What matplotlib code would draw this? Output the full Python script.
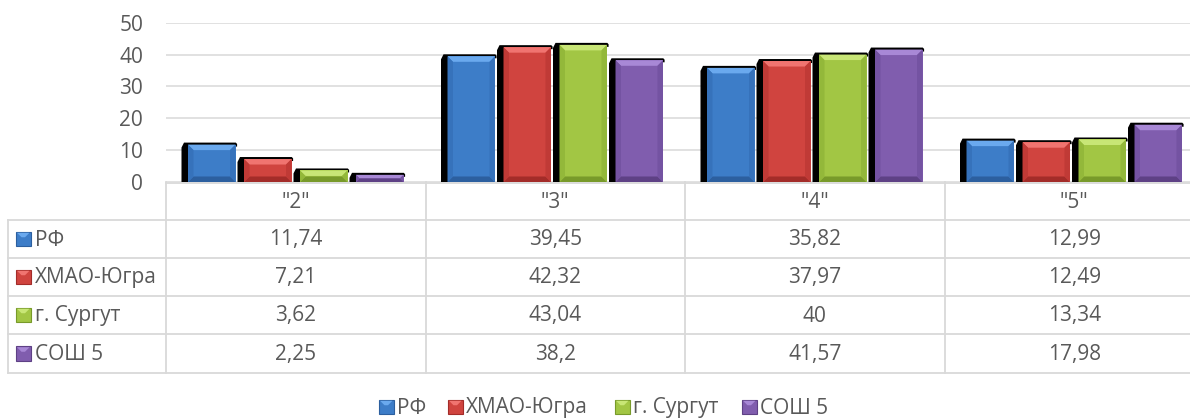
import numpy as np
import matplotlib
matplotlib.use("Agg")
import matplotlib.pyplot as plt
from matplotlib.patches import Polygon, Rectangle
from matplotlib.lines import Line2D

# ---------------- data ----------------
categories = ['"2"', '"3"', '"4"', '"5"']
series_names = ["РФ", "ХМАО-Югра", "г. Сургут", "СОШ 5"]
rf = [11.74, 39.45, 35.82, 12.99]
hmao = [7.21, 42.32, 37.97, 12.49]
surgut = [3.62, 43.04, 40, 13.34]
sosh5 = [2.25, 38.2, 41.57, 17.98]
y_ticks = [0, 10, 20, 30, 40, 50]

series = [rf, hmao, surgut, sosh5]
face = ["#3d7dc8", "#d0443f", "#a2c644", "#805dae"]
light = ["#6aa9ee", "#f07470", "#c8e676", "#a888d6"]
dark = ["#2c5f9f", "#a32c29", "#789a2a", "#5e4185"]
side = ["#3672bb", "#c03a36", "#93b83a", "#7453a2"]

W, H, DPI = 1190, 418, 100
plt.rcParams['font.family'] = ['Open Sans', 'DejaVu Sans']
TXT = "#595959"
GRID = "#d9d9d9"
FS = 15

fig = plt.figure(figsize=(W / DPI, H / DPI), dpi=DPI)

# axes geometry in pixels
ax_l, ax_r, ax_t, ax_b = 166, 1204, 22.7, 182
ax = fig.add_axes([ax_l / W, 1 - ax_b / H, (ax_r - ax_l) / W, (ax_b - ax_t) / H])
ax.set_xlim(-0.5, 3.5)
ax.set_ylim(0, 50)
pxx = 4.0 / (ax_r - ax_l)
pxy = 50.0 / (ax_b - ax_t)

for s in ax.spines.values():
    s.set_visible(False)
ax.set_xticks([])
ax.set_yticks(y_ticks)
ax.tick_params(axis='y', length=0, pad=16.5, labelsize=FS, labelcolor=TXT)
ax.yaxis.grid(True, color=GRID, lw=1.1)
ax.set_axisbelow(True)

x = np.arange(len(categories))
period = 56.0 * pxx
fw = 47.5 * pxx
for i, vals in enumerate(series):
    bars = ax.bar(x + (i - 1.5) * period, vals, width=fw, color=face[i], zorder=4, lw=0)
    for b in bars:
        L = b.get_x(); R = L + b.get_width(); T = b.get_height(); B = 0.0
        # black depth shadow (left + top)
        sh = [(L - 6.5 * pxx, B), (L - 6.5 * pxx, T - 3 * pxy), (L - 4 * pxx, T + 2 * pxy),
              (R + 0.3 * pxx, T + 2 * pxy), (R + 1.6 * pxx, T + 0.6 * pxy), (R + 1.6 * pxx, T - 2 * pxy),
              (R, T - 2 * pxy), (R, B)]
        ax.add_patch(Polygon(sh, closed=True, fc="black", ec="none", zorder=3))
        hpx = T / pxy
        bpx = min(5.5, hpx / 2.0)
        bx, by = bpx * pxx, bpx * pxy
        ax.add_patch(Polygon([(L, T), (R, T), (R - bx, T - by), (L + bx, T - by)],
                             fc=light[i], ec="none", zorder=5))
        ax.add_patch(Polygon([(L, B), (R, B), (R - bx, B + by), (L + bx, B + by)],
                             fc=dark[i], ec="none", zorder=5))
        ax.add_patch(Polygon([(L, B), (L + bx, B + by), (L + bx, T - by), (L, T)],
                             fc=side[i], ec="none", zorder=5))
        ax.add_patch(Polygon([(R, B), (R - bx, B + by), (R - bx, T - by), (R, T)],
                             fc=side[i], ec="none", zorder=5))


# ---------------- data table ----------------
def fx(px):
    return px / W


def fy(py):
    return 1 - py / H


def hline(x0, x1, y):
    fig.add_artist(Line2D([fx(x0), fx(x1)], [fy(y), fy(y)], color=GRID, lw=1.3, zorder=1))


def vline(xp, y0, y1):
    fig.add_artist(Line2D([fx(xp), fx(xp)], [fy(y0), fy(y1)], color=GRID, lw=1.3, zorder=1))


def marker(x0, yc, i, size=14.5):
    x1 = x0 + size
    y0 = yc - size / 2; y1 = yc + size / 2
    fig.add_artist(Rectangle((fx(x0), fy(y1)), size / W, size / H, transform=fig.transFigure,
                             fc=face[i], ec=dark[i], lw=0.8, zorder=3))
    b = 4.5
    fig.add_artist(Polygon([(fx(x0 + 1), fy(y0 + 1)), (fx(x1 - 1), fy(y0 + 1)),
                            (fx(x1 - 1 - b), fy(y0 + 1 + b)), (fx(x0 + 1 + b), fy(y0 + 1 + b))],
                           closed=True, transform=fig.transFigure, fc=light[i], ec="none", zorder=4))


col_edges = [166, 425.5, 685, 944.5, 1204]
row_edges = [182, 220, 258, 296, 334, 373]
tab_left = 8

hline(166, W, 182.5)
for yv in row_edges[1:]:
    hline(tab_left, W, yv)
vline(tab_left, 220, 373)
for xv in col_edges:
    vline(xv, 182, 373)

hy = (row_edges[0] + row_edges[1]) / 2
for j, c in enumerate(categories):
    fig.text(fx((col_edges[j] + col_edges[j + 1]) / 2), fy(hy + 1), c, ha="center", va="center",
             fontsize=FS, color=TXT)

for i, name in enumerate(series_names):
    yc = (row_edges[i + 1] + row_edges[i + 2]) / 2
    marker(16, yc, i)
    fig.text(fx(35), fy(yc + 1), name, ha="left", va="center", fontsize=FS, color=TXT)
    for j, v in enumerate(series[i]):
        s = f"{v:g}".replace(".", ",")
        fig.text(fx((col_edges[j] + col_edges[j + 1]) / 2), fy(yc + 1), s, ha="center",
                 va="center", fontsize=FS, color=TXT)

# ---------------- legend ----------------
leg_y = 407
leg_x = [379, 448, 615, 742]
for i, name in enumerate(series_names):
    marker(leg_x[i], leg_y, i)
    fig.text(fx(leg_x[i] + 18), fy(leg_y + 1), name, ha="left", va="center", fontsize=FS, color=TXT)

fig.savefig("out.png", dpi=DPI)
